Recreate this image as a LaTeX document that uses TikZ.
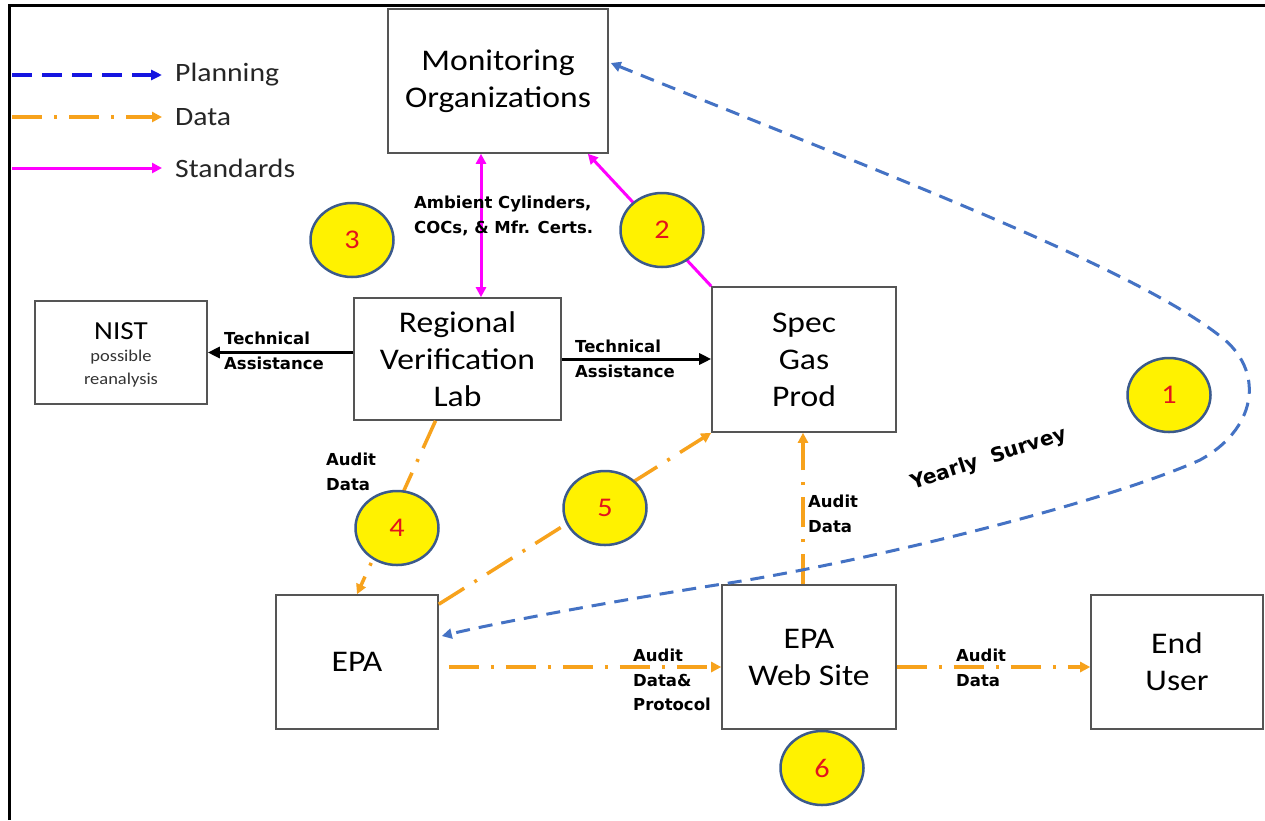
\documentclass[tikz,border=0pt]{standalone}
\usepackage{fontspec}
\setmainfont{Carlito}[FakeStretch=1.12]
\newfontfamily\lblfont{DejaVu Sans}
\usetikzlibrary{arrows.meta,calc,shapes.geometric}
\definecolor{boxgray}{HTML}{555555}
\definecolor{ringblue}{HTML}{3B5A8C}
\definecolor{numred}{HTML}{E3141C}
\definecolor{dataorange}{HTML}{F7A21C}
\definecolor{planblue}{HTML}{4472C4}
\definecolor{legblue}{HTML}{1515E0}
\definecolor{stdmag}{HTML}{FF00FF}
\begin{document}
\begin{tikzpicture}[x=1pt,y=-1pt,
  box/.style={draw=boxgray,line width=1.6pt,align=center,inner sep=0pt,font=\fontsize{30}{37}\selectfont},
  num/.style={ellipse,draw=ringblue,line width=2.5pt,fill=yellow,minimum width=83pt,minimum height=74pt,inner sep=0pt,text=numred,font=\fontsize{27}{30}\selectfont},
  lbl/.style={align=left,inner sep=0pt,font=\lblfont\bfseries\fontsize{16.5}{24.5}\selectfont},
  legtext/.style={anchor=west,inner sep=0pt,font=\fontsize{26.5}{30}\selectfont,text=black!85},
  dataline/.style={draw=dataorange,line width=3.5pt,dash pattern=on 30pt off 12pt on 3pt off 12pt,-{Triangle[length=10pt,width=10pt]}},
  stdline/.style={draw=stdmag,line width=3pt,-{Triangle[length=10pt,width=10pt]}},
  techline/.style={draw=black,line width=3pt,-{Triangle[length=12pt,width=11pt]}},
  planline/.style={draw=planblue,line width=3pt,dash pattern=on 14pt off 9pt,{Triangle[length=10pt,width=10pt]}-{Triangle[length=10pt,width=10pt]}}
]
\useasboundingbox (0,0) rectangle (1265,820);
\fill[white] (0,0) rectangle (1265,820);
% frame
\draw[line width=3pt] (9,820) -- (9,5) -- (1265,5);

% legend
\coordinate (l1a) at (12,75); \coordinate (l1b) at (162,75);
\coordinate (l2a) at (12,117); \coordinate (l2b) at (162,117);
\coordinate (l3a) at (12,168); \coordinate (l3b) at (162,168);
\draw[legblue,line width=3.5pt,dash pattern=on 20pt off 10pt,-{Triangle[length=11pt,width=10pt]}] (l1a) -- (l1b);
\draw[dataline] (l2a) -- (l2b);
\draw[stdline] (l3a) -- (l3b);
\node[legtext] (t1) at (175,75) {Planning};
\node[legtext] (t2) at (175,117) {Data};
\node[legtext] (t3) at (175,168) {Standards};

% boxes
\node[box,minimum width=220pt,minimum height=144pt] (mon) at (498,81) {Monitoring\\Organizations};
\node[box,minimum width=207pt,minimum height=122pt] (rvl) at (457.5,359) {Regional\\Verification\\Lab};
\node[box,minimum width=184pt,minimum height=145pt] (spec) at (804,359.5) {Spec\\Gas\\Prod};
\node[box,minimum width=172pt,minimum height=103pt] (nist) at (121,352.5) {};
\node[inner sep=0pt,align=center,font=\fontsize{26}{26}\selectfont] (nistt) at (121,331) {NIST};
\node[inner sep=0pt,align=center,font=\fontsize{16.5}{23}\selectfont,text=black!80] (nists) at (121,369) {possible\\reanalysis};
\node[box,minimum width=162pt,minimum height=134pt] (epa) at (357,662) {EPA};
\node[box,minimum width=174pt,minimum height=144pt] (web) at (809,657) {EPA\\Web Site};
\node[box,minimum width=172pt,minimum height=134pt] (end) at (1177,662) {End\\User};

% standards connectors
\coordinate (sx) at (481,0);
\draw[stdline,{Triangle[length=10pt,width=10pt]}-{Triangle[length=10pt,width=10pt]}] (mon.south -| sx) -- (rvl.north -| sx);
\draw[stdline] (spec.north west) -- ($(mon.south east)+(-21,0)$);

% technical assistance
\draw[techline] (rvl.west |- nist.east) -- (nist.east);
\draw[techline] (rvl.east) -- (rvl.east -| spec.west);

% data connectors
\draw[dataline] ($(rvl.south)+(-22,0)$) -- (epa.north);
\draw[dataline] ($(epa.north east)+(0,10)$) -- (spec.south west);
\coordinate (dy) at (0,667);
\draw[dataline] ($(epa.east |- dy)+(10,0)$) -- (web.west |- dy);
\coordinate (wx) at (803,0);
\draw[dataline] (web.north -| wx) -- (spec.south -| wx);
\draw[dataline] (web.east |- dy) -- (end.west |- dy);

% planning curve
\draw[planline] ($(mon.east)+(2,-18)$) .. controls (900,180) and (1140,270) .. (1225,340)
   .. controls (1265,375) and (1255,430) .. (1200,460)
   .. controls (1100,505) and (850,565) .. (web.north west)
   .. controls (620,600) and (500,622) .. ($(epa.east)+(3,-26)$);

% labels
\node[lbl,anchor=west] (amb) at (414,216) {Ambient Cylinders,\\COCs, \& Mfr. Certs.};
\node[lbl,anchor=west] (ta1) at (224,351) {Technical\\Assistance};
\node[lbl,anchor=west] (ta2) at (575,359) {Technical\\Assistance};
\node[lbl,anchor=west] (ad1) at (326,472) {Audit\\Data};
\node[lbl,anchor=west] (ad2) at (808,514) {Audit\\Data};
\node[lbl,anchor=west] (ad3) at (633,680) {Audit\\Data\&\\Protocol};
\node[lbl,anchor=west] (ad4) at (956,668) {Audit\\Data};
\node[inner sep=0pt,font=\lblfont\bfseries\fontsize{20}{22}\selectfont,rotate=18] (ys) at (989,459) {Yearly\ \ Survey};

% numbered circles
\node[num] (c1) at (1169,395) {1};
\node[num] (c2) at (662,230) {2};
\node[num] (c3) at (352,240) {3};
\node[num] (c4) at (397,528) {4};
\node[num] (c5) at (605,508) {5};
\node[num] (c6) at (822,768) {6};
\end{tikzpicture}
\end{document}
